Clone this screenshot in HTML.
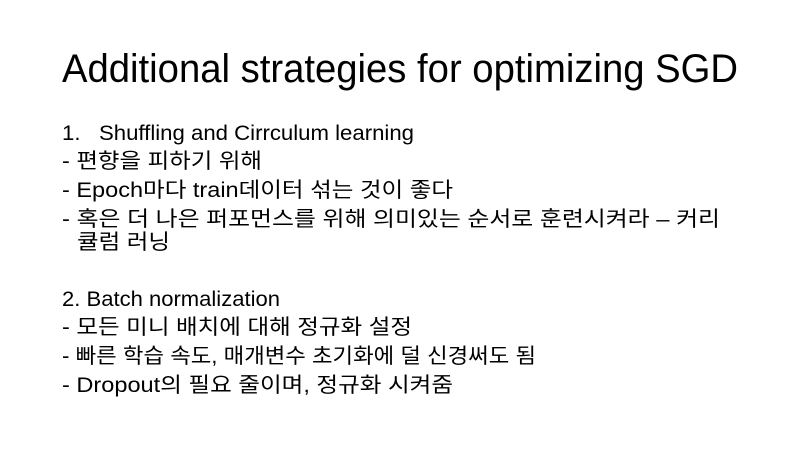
<!DOCTYPE html>
<html><head><meta charset="utf-8"><style>
html,body{margin:0;padding:0;background:#fff;}
svg{display:block;}
text{font-family:"Liberation Sans","Noto Sans CJK KR","NanumGothic",sans-serif;fill:#000;}
</style></head><body>
<svg width="800" height="450" viewBox="0 0 800 450">
<rect width="800" height="450" fill="#fff"/>
<text x="62" y="82" font-size="40" textLength="676" lengthAdjust="spacingAndGlyphs">Additional strategies for optimizing SGD</text>
<g font-size="21">
<text x="62" y="140" textLength="352" lengthAdjust="spacingAndGlyphs">1.&#160;&#160;&#160;Shuffling and Cirrculum learning</text>
<text x="62" y="168" textLength="200" lengthAdjust="spacingAndGlyphs">- 편향을 피하기 위해</text>
<text x="62" y="197" textLength="391" lengthAdjust="spacingAndGlyphs">- Epoch마다 train데이터 섞는 것이 좋다</text>
<text x="62" y="226" textLength="658" lengthAdjust="spacingAndGlyphs">- 혹은 더 나은 퍼포먼스를 위해 의미있는 순서로 훈련시켜라 – 커리</text>
<text x="77" y="249" textLength="93" lengthAdjust="spacingAndGlyphs">큘럼 러닝</text>
</g>
<g font-size="21">
<text x="62" y="306" textLength="218" lengthAdjust="spacingAndGlyphs">2. Batch normalization</text>
<text x="62" y="334" textLength="350" lengthAdjust="spacingAndGlyphs">- 모든 미니 배치에 대해 정규화 설정</text>
<text x="62" y="363" textLength="474" lengthAdjust="spacingAndGlyphs">- 빠른 학습 속도, 매개변수 초기화에 덜 신경써도 됨</text>
<text x="62" y="392" textLength="391" lengthAdjust="spacingAndGlyphs">- Dropout의 필요 줄이며, 정규화 시켜줌</text>
</g>
</svg>
</body></html>
